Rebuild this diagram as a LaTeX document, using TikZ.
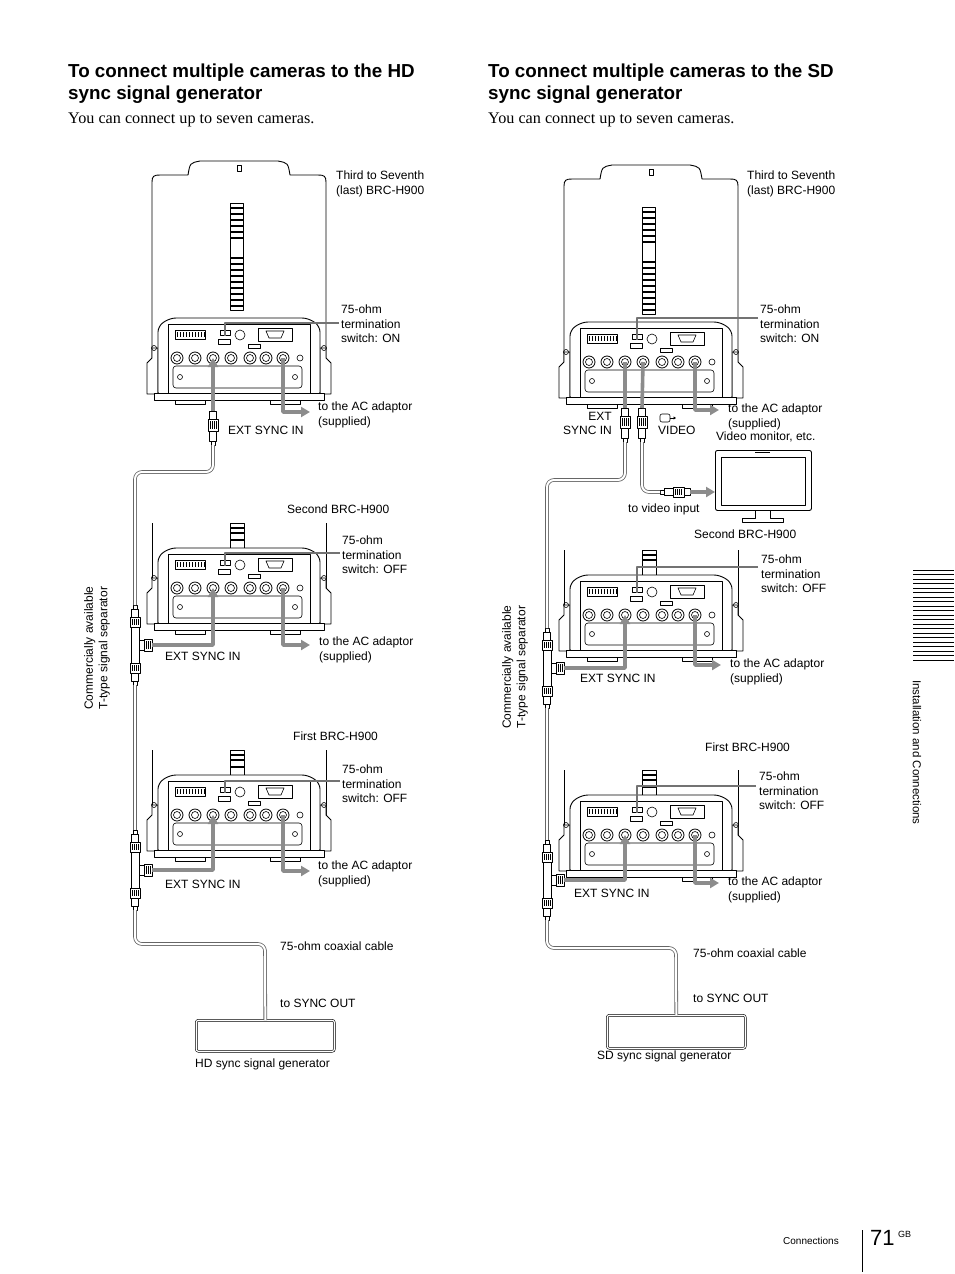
\documentclass[tikz,border=0pt]{standalone}
\usepackage{fontspec}
\setmainfont{Liberation Serif}
\newfontfamily\sansf{Liberation Sans}
\usetikzlibrary{arrows.meta}
\begin{document}
\begin{tikzpicture}[x=1pt,y=-1pt,line join=round,
  lbl/.style={font=\sansf\fontsize{12}{14.3}\selectfont,inner sep=0pt,align=left,anchor=north west},
  head/.style={font=\sansf\bfseries\fontsize{18.8}{22}\selectfont,inner sep=0pt,align=left,anchor=north west},
  sub/.style={font=\fontsize{16.2}{18}\selectfont,inner sep=0pt,anchor=north west},
  garrow/.style={draw=black!45,line width=3.6pt,-{Triangle[length=9pt,width=10pt]}},
  gline/.style={draw=black!45,line width=3.6pt},
  leader/.style={draw=black!55,line width=1.3pt},
  cable/.style={draw=black!60,double=white,double distance=2pt,line width=0.8pt,rounded corners=7pt},
  thin/.style={line width=0.6pt},
  camtop/.pic={
    \draw[fill=white,line width=0.9pt] (2,40) -- (2,-136) .. controls (2,-142) and (4,-143) .. (10,-143) -- (38,-143) .. controls (40,-155) .. (50,-157) -- (128,-157) .. controls (138,-155) .. (140,-143) -- (168,-143) .. controls (174,-143) and (176,-142) .. (176,-136) -- (176,40);
    \draw[thin] (87,-153) rectangle (91,-147);
    \draw[thin,fill=white] (80,-115) rectangle (93,-8);
    \foreach \yy in {-110,-104,-98,-92,-86,-80,-60,-54,-48,-42,-36,-30,-24,-18,-12} \draw[line width=1.1pt] (80,\yy) -- (93,\yy);
  },
  camstub/.pic={
    \draw[line width=0.9pt] (2,-25) -- (2,40); \draw[line width=0.9pt] (176,-25) -- (176,40);
    \draw[thin,fill=white] (80,-25) rectangle (94,0);
    \foreach \yy in {-20,-15,-8} \draw[line width=1.1pt] (80,\yy) -- (94,\yy);
  },
  campanel/.pic={
    \draw[fill=white,line width=0.9pt] (-3,45) -- (2,40) -- (2,30) -- (8,30) -- (8,76) -- (-3,76) -- cycle;
    \draw[fill=white,line width=0.9pt] (181,45) -- (176,40) -- (176,30) -- (170,30) -- (170,76) -- (181,76) -- cycle;
    \draw[thin] (4,30) circle (2.5); \draw[thin] (174,30) circle (2.5);
    \draw[fill=white,line width=0.9pt,rounded corners=6pt] (8,80) -- (8,8) -- (20,0) -- (158,0) -- (170,8) -- (170,80) -- cycle;
    \draw[fill=white,line width=0.9pt] (4,75) rectangle (174,82);
    \draw[line width=0.9pt] (25,82) rectangle (55,86); \draw[line width=0.9pt] (120,82) rectangle (150,86);
    \draw[thin] (18,6) rectangle (160,75);
    \draw[thin,rounded corners=3pt] (23,48) rectangle (152,70);
    \draw[thin] (30,59) circle (2.5); \draw[thin] (145,59) circle (2.5);
    \draw[thin] (25,12) rectangle (55,21);
    \foreach \xx in {27,30,...,54} \draw[line width=0.4pt] (\xx,14) -- (\xx,19);
    \draw[thin] (70,12) rectangle (80,17); \draw[thin] (68,21) rectangle (80,26);
    \draw[thin] (90,17) circle (5);
    \draw[thin] (108,10) rectangle (142,23); \draw[thin] (116,13) -- (134,13) -- (131,20) -- (119,20) -- cycle;
    \draw[thin] (98,26) rectangle (110,30);
    \foreach \xx in {27,45,63,81,100,116,133} {\draw[line width=0.8pt,fill=white] (\xx,40) circle (6); \draw[thin] (\xx,40) circle (3.5);}
    \draw[thin] (150,40) circle (3);
    \coordinate (-ext) at (63,40); \coordinate (-vid) at (81,40); \coordinate (-ac) at (133,40); \coordinate (-sw) at (75,18);
  },
  bncv/.pic={
    \draw[thin,fill=white] (-3.5,-17) rectangle (3.5,-9);
    \draw[thin,fill=white] (-5,-9) rectangle (5,3);
    \foreach \xx in {-3,-1,1,3} \draw[line width=0.4pt] (\xx,-7) -- (\xx,1);
    \draw[thin,fill=white] (-3.5,3) rectangle (3.5,13);
    \draw[thin,fill=white] (-2,13) rectangle (2,17);
    \coordinate (-top) at (0,-17); \coordinate (-bot) at (0,17);
  },
  bnch/.pic={
    \draw[thin,fill=white] (-15,-2) rectangle (-11,2);
    \draw[thin,fill=white] (-11,-3.5) rectangle (-2,3.5);
    \draw[thin,fill=white] (-2,-5) rectangle (9,5);
    \foreach \xx in {0,2,4,6} \draw[line width=0.4pt] (\xx,-3) -- (\xx,3);
    \draw[thin,fill=white] (9,-3.5) rectangle (15,3.5);
    \coordinate (-left) at (-15,0); \coordinate (-right) at (15,0);
  },
  tsep/.pic={
    \draw[thin,fill=white] (-2,-40) rectangle (2,-36);
    \draw[thin,fill=white] (-3.5,-36) rectangle (3.5,-28);
    \draw[thin,fill=white] (-5,-28) rectangle (5,-18);
    \foreach \xx in {-3,-1,1,3} \draw[line width=0.4pt] (\xx,-26) -- (\xx,-20);
    \draw[thin,fill=white] (-4,-18) rectangle (4,18);
    \draw[thin,fill=white] (4,-5) rectangle (9,5);
    \draw[thin,fill=white] (9,-6) rectangle (17,6);
    \foreach \xx in {11,13,15} \draw[line width=0.4pt] (\xx,-4) -- (\xx,4);
    \draw[thin,fill=white] (-5,18) rectangle (5,28);
    \foreach \xx in {-3,-1,1,3} \draw[line width=0.4pt] (\xx,20) -- (\xx,26);
    \draw[thin,fill=white] (-3.5,28) rectangle (3.5,36);
    \draw[thin,fill=white] (-2,36) rectangle (2,40);
    \coordinate (-top) at (0,-40); \coordinate (-bot) at (0,40); \coordinate (-side) at (17,0);
  }]
\useasboundingbox (0,0) rectangle (954,1274);

% ---------- headings
\node[head] (h1) at (68,64) {To connect multiple cameras to the HD\\sync signal generator};
\node[sub] (s1t) at (68,113) {You can connect up to seven cameras.};
\node[head] (h2) at (488,64) {To connect multiple cameras to the SD\\sync signal generator};
\node[sub] (s2t) at (488,113) {You can connect up to seven cameras.};

% ---------- LEFT cameras
\pic (c1t) at (150,318) {camtop};
\pic (cam1) at (150,318) {campanel};
\pic (c2t) at (150,548) {camstub};
\pic (cam2) at (150,548) {campanel};
\pic (c3t) at (150,775) {camstub};
\pic (cam3) at (150,775) {campanel};

\pic (b1) at (213,428) {bncv};
\pic (s1) at (135,645) {tsep};
\pic (s2) at (135,870) {tsep};

\coordinate (k1) at (135,472);
\coordinate (k2) at (265,944);
\node[draw,double,double distance=1.2pt,thin,rounded corners=2pt,minimum width=138pt,minimum height=31pt,anchor=north west] (gen1) at (196,1020) {};
\draw[cable] (b1-bot) |- (k1) -- (s1-top);
\draw[cable] (s1-bot) -- (s2-top);
\draw[cable] (s2-bot) |- (k2) -- (gen1.north);

\coordinate (a1) at (310,412); \coordinate (a2) at (310,645); \coordinate (a3) at (310,871);
\draw[garrow] (b1-top) -- (cam1-ext);
\draw[garrow] (cam1-ac) |- (a1);
\draw[garrow] (s1-side) -| (cam2-ext);
\draw[garrow] (cam2-ac) |- (a2);
\draw[garrow] (s2-side) -| (cam3-ext);
\draw[garrow] (cam3-ac) |- (a3);

\coordinate (l1) at (339,323); \coordinate (l2) at (340,553); \coordinate (l3) at (340,781);
\draw[leader] (l1) -| (cam1-sw);
\draw[leader] (l2) -| (cam2-sw);
\draw[leader] (l3) -| (cam3-sw);

\node[lbl] (t1) at (336,171) {Third to Seventh\\(last) BRC-H900};
\node[lbl] (t2) at (341,305) {75-ohm\\termination\\switch: ON};
\node[lbl] (t3) at (318,402) {to the AC adaptor\\(supplied)};
\node[lbl] (t4) at (228,426) {EXT SYNC IN};
\node[lbl] (t5) at (287,505) {Second BRC-H900};
\node[lbl] (t6) at (342,536) {75-ohm\\termination\\switch: OFF};
\node[lbl] (t7) at (319,637) {to the AC adaptor\\(supplied)};
\node[lbl] (t8) at (165,652) {EXT SYNC IN};
\node[lbl] (t9) at (293,732) {First BRC-H900};
\node[lbl] (t10) at (342,765) {75-ohm\\termination\\switch: OFF};
\node[lbl] (t11) at (318,861) {to the AC adaptor\\(supplied)};
\node[lbl] (t12) at (165,880) {EXT SYNC IN};
\node[lbl] (t13) at (280,942) {75-ohm coaxial cable};
\node[lbl] (t14) at (280,999) {to SYNC OUT};
\node[lbl] (t15) at (195,1059) {HD sync signal generator};
\node[lbl,anchor=center,align=center,rotate=90] (t16) at (97,648) {Commercially available\\T-type signal separator};

% ---------- RIGHT cameras
\pic (c4t) at (562,322) {camtop};
\pic (cam4) at (562,322) {campanel};
\pic (c5t) at (562,575) {camstub};
\pic (cam5) at (562,575) {campanel};
\pic (c6t) at (562,795) {camstub};
\pic (cam6) at (562,795) {campanel};

\pic (b3) at (625,425) {bncv};
\pic (b4) at (642,425) {bncv};
\pic (hb) at (675,492) {bnch};
\pic (s3) at (547,668) {tsep};
\pic (s4) at (547,880) {tsep};

\node[draw,line width=0.9pt,rounded corners=2pt,minimum width=96pt,minimum height=60pt,anchor=north west,fill=white] (mon) at (715,450) {};
\draw[thin] (721,457) rectangle (805,505);
\draw[thin] (755,452) -- (770,452);
\draw[line width=0.8pt] (755,510) -- (755,518) -- (742,518) -- (742,522) -- (783,522) -- (783,518) -- (770,518) -- (770,510);

\coordinate (k3) at (547,480);
\coordinate (k4) at (676,948);
\node[draw,double,double distance=1.2pt,thin,rounded corners=2pt,minimum width=138pt,minimum height=33pt,anchor=north west] (gen2) at (607,1015) {};
\draw[cable] (b3-bot) |- (k3) -- (s3-top);
\draw[cable] (s3-bot) -- (s4-top);
\draw[cable] (s4-bot) |- (k4) -- (gen2.north);
\draw[cable] (b4-bot) |- (hb-left);
\draw[garrow] (hb-right) -- (mon.west |- hb-right);

\coordinate (a4) at (719,410); \coordinate (a5) at (721,665); \coordinate (a6) at (719,883);
\draw[gline] (b3-top) -- (cam4-ext);
\draw[gline] (b4-top) -- (cam4-vid);
\draw[garrow] (cam4-ac) |- (a4);
\draw[garrow] (s3-side) -| (cam5-ext);
\draw[garrow] (cam5-ac) |- (a5);
\draw[garrow] (s4-side) -| (cam6-ext);
\draw[garrow] (cam6-ac) |- (a6);

\coordinate (l4) at (758,318); \coordinate (l5) at (758,567); \coordinate (l6) at (756,786);
\draw[leader] (l4) -| (cam4-sw);
\draw[leader] (l5) -| (cam5-sw);
\draw[leader] (l6) -| (cam6-sw);

% video icon
\draw[thin,rounded corners=2pt] (660,414) rectangle (670,422);
\draw[thin,-{Triangle[length=2.5pt,width=3pt]}] (670,418) -- (676,418);

\node[lbl] (r1) at (747,171) {Third to Seventh\\(last) BRC-H900};
\node[lbl] (r2) at (760,305) {75-ohm\\termination\\switch: ON};
\node[lbl] (r3) at (728,404) {to the AC adaptor\\(supplied)};
\node[lbl,anchor=north east,align=right] (r4) at (612,412) {EXT\\SYNC IN};
\node[lbl] (r5) at (658,426) {VIDEO};
\node[lbl] (r6) at (716,432) {Video monitor, etc.};
\node[lbl] (r7) at (628,504) {to video input};
\node[lbl] (r8) at (694,530) {Second BRC-H900};
\node[lbl] (r9) at (761,555) {75-ohm\\termination\\switch: OFF};
\node[lbl] (r10) at (730,659) {to the AC adaptor\\(supplied)};
\node[lbl] (r11) at (580,674) {EXT SYNC IN};
\node[lbl] (r12) at (705,743) {First BRC-H900};
\node[lbl] (r13) at (759,772) {75-ohm\\termination\\switch: OFF};
\node[lbl] (r14) at (728,877) {to the AC adaptor\\(supplied)};
\node[lbl] (r15) at (574,889) {EXT SYNC IN};
\node[lbl] (r16) at (693,949) {75-ohm coaxial cable};
\node[lbl] (r17) at (693,994) {to SYNC OUT};
\node[lbl] (r18) at (597,1051) {SD sync signal generator};
\node[lbl,anchor=center,align=center,rotate=90] (r19) at (515,667) {Commercially available\\T-type signal separator};

% ---------- side tab and footer
\foreach \yy in {570,574.5,...,661} \draw[line width=0.8pt] (913,\yy) -- (954,\yy);
\node[font=\sansf\fontsize{11.5}{12}\selectfont,inner sep=0pt,rotate=-90,anchor=west] (side) at (917,680) {Installation and Connections};
\node[font=\sansf\fontsize{10}{12}\selectfont,inner sep=0pt,anchor=west] (foot) at (783,1241) {Connections};
\draw[line width=0.6pt] (862,1230) -- (862,1272);
\node[font=\sansf\fontsize{22}{24}\selectfont,inner sep=0pt,anchor=west] (pg) at (870,1238) {71};
\node[font=\sansf\fontsize{9}{10}\selectfont,inner sep=0pt,anchor=west] (gb) at (898,1234) {GB};
\end{tikzpicture}
\end{document}
